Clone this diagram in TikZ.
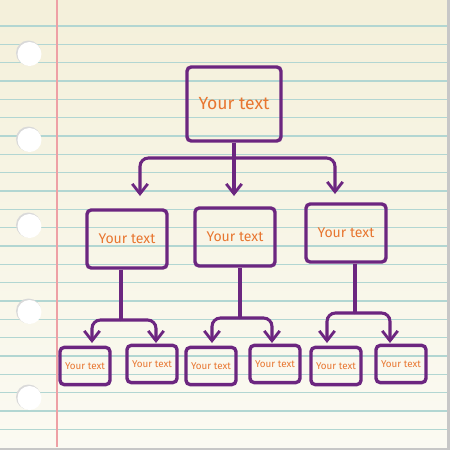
\documentclass[tikz,border=0pt]{standalone}
\usepackage{fontspec}
\setmainfont{Fira Sans}
\usetikzlibrary{arrows.meta, positioning, shadings}
\definecolor{paperTop}{RGB}{244,240,218}
\definecolor{paperBottom}{RGB}{251,250,242}
\definecolor{ruleBlue}{RGB}{178,214,210}
\definecolor{marginRed}{RGB}{238,160,165}
\definecolor{chartPurple}{RGB}{108,38,128}
\definecolor{textOrange}{RGB}{232,118,48}

\begin{document}
\begin{tikzpicture}[x=0.025cm, y=-0.025cm,
  box/.style={draw=chartPurple, line width=2.4pt, rounded corners=3pt, inner sep=0pt, text=textOrange},
  bigbox/.style={box, minimum width=2.35cm, minimum height=1.85cm, font=\fontsize{12.5}{14}\selectfont},
  midbox/.style={box, minimum width=2cm, minimum height=1.45cm, font=\fontsize{10}{12}\selectfont},
  smallbox/.style={box, minimum width=1.25cm, minimum height=0.93cm, font=\fontsize{7}{8}\selectfont},
  link/.style={draw=chartPurple, line width=2.2pt, rounded corners=6pt},
  arrow/.style={link, -{Straight Barb[length=7pt,width=11pt,line width=2pt]}}]

  % paper
  \useasboundingbox (0,0) rectangle (450,450);
  \fill[black!22] (0,0) rectangle (450,450);
  \shade[top color=paperTop, bottom color=paperBottom] (0,0) rectangle (447,447);
  \foreach \k in {0,...,22}
    \draw[ruleBlue, line width=0.9pt] (0,{26+18.33*\k}) -- (447,{26+18.33*\k});
  \draw[marginRed, line width=1pt] (57,0) -- (57,447);
  \foreach \hy in {54,140,226,312,398} {
    \fill[black!15] (28.5,\hy-1) circle (12.5);
    \fill[white] (29.5,\hy) circle (12);
  }

  % boxes
  \node[bigbox] (root) at (234,104) {Your text};
  \node[midbox] (left) at (127,239) {Your text};
  \node[midbox] (mid) at (235,237) {Your text};
  \node[midbox] (right) at (346,233) {Your text};
  \node[smallbox] (leftA) at (85,366) {Your text};
  \node[smallbox] (leftB) at (152,364) {Your text};
  \node[smallbox] (midA) at (211,366) {Your text};
  \node[smallbox] (midB) at (275,364) {Your text};
  \node[smallbox] (rightA) at (336,366) {Your text};
  \node[smallbox] (rightB) at (401,364) {Your text};

  % root to second row
  \coordinate (root-hub) at (234,158);
  \coordinate (mid-tip) at (234,196);
  \draw[arrow] (root.south) -- (mid-tip);
  \draw[arrow] (root-hub) -| (140,196);
  \draw[arrow] (root-hub) -| (335,194);

  % second row to third row
  \foreach \parent/\hx/\hy/\la/\lb in {left/121/320/92/156, mid/240/318/212/272, right/355/313/327/390} {
    \coordinate (\parent-hub) at (\hx,\hy);
    \draw[link] (\parent.south -| \parent-hub) -- (\parent-hub);
    \draw[arrow] (\parent-hub) -| (\la,343);
    \draw[arrow] (\parent-hub) -| (\lb,343);
  }
\end{tikzpicture}
\end{document}
